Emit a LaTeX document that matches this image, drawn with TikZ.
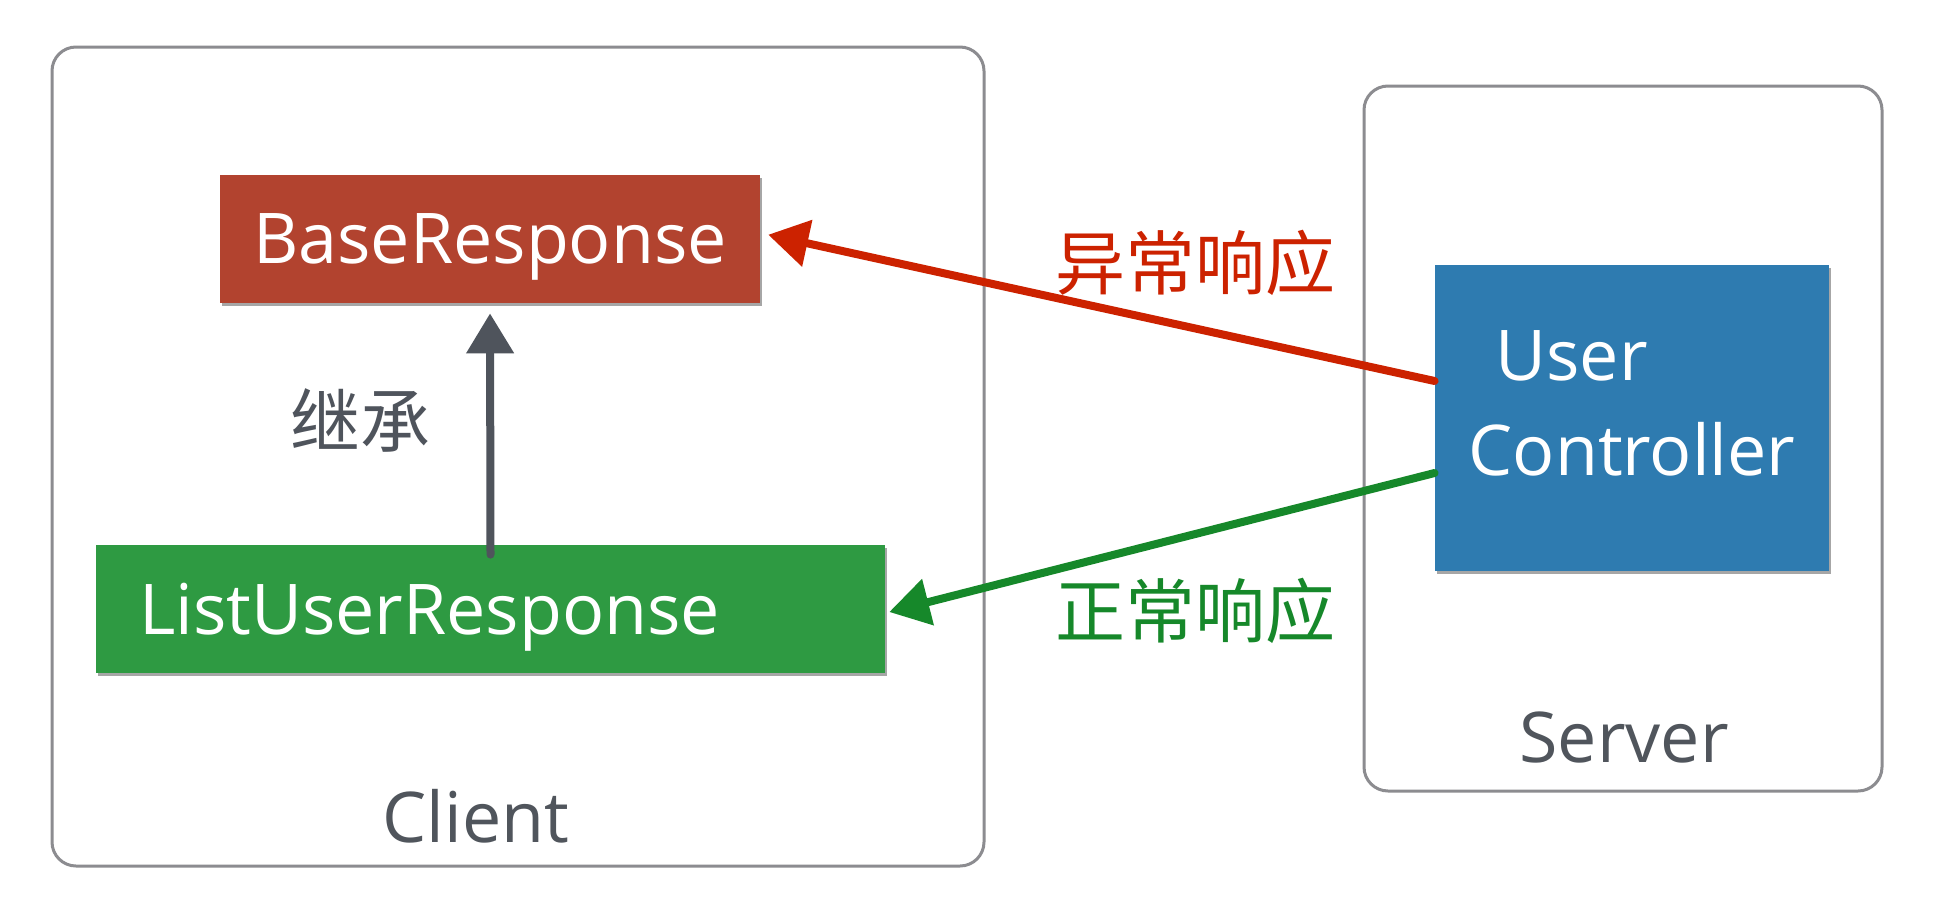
\documentclass[tikz,border=0pt]{standalone}
\usepackage{fontspec}
\setmainfont{Open Sans}
\newfontfamily\cjk{Noto Sans CJK SC}
\usetikzlibrary{arrows.meta,shadows}
\definecolor{framegray}{HTML}{8C8C90}
\definecolor{labelgray}{HTML}{50555C}
\definecolor{redbox}{HTML}{B2432F}
\definecolor{greenbox}{HTML}{2E9A42}
\definecolor{bluebox}{HTML}{2E7BB0}
\definecolor{redline}{HTML}{CC2200}
\definecolor{greenline}{HTML}{16882A}
\definecolor{grayline}{HTML}{4F545C}
\tikzset{
  frame/.style={draw=framegray, line width=1.5pt, rounded corners=12pt, fill=white},
  lbl/.style={font=\fontsize{35}{42}\selectfont, text=labelgray, inner sep=0pt},
  cjklbl/.style={font=\cjk\fontsize{35}{40}\selectfont, inner sep=0pt},
  box/.style={text=white, inner sep=0pt, font=\fontsize{35}{47.5}\selectfont,
    drop shadow={shadow xshift=1pt, shadow yshift=-1.5pt, opacity=0.35, fill=black}},
  pencil/.style={line width=4pt, line cap=round, -{Triangle[length=20pt,width=23pt]}},
}
\begin{document}
\begin{tikzpicture}[x=0.5pt,y=-0.5pt]
\useasboundingbox (0,0) rectangle (1948,910);
\fill[white] (0,0) rectangle (1948,910);

% frames
\node[frame, minimum width=466pt, minimum height=409.5pt] (client) at (518,456.5) {};
\node[frame, minimum width=259pt, minimum height=352.5pt] (server) at (1623,438.5) {};
\node[lbl, anchor=base] (clientlbl) at (476,842) {Client};
\node[lbl, anchor=base] (serverlbl) at (1624,762) {Server};

% boxes
\node[box, fill=redbox, minimum width=270pt, minimum height=64pt, text depth=0pt] (br) at (490,239) {BaseResponse};
\node[box, fill=greenbox, minimum height=64pt, text width=351.5pt, inner xsep=21.5pt, align=left, text depth=0pt] (lur) at (490.5,609) {ListUserResponse};
\node[box, fill=bluebox, minimum width=197pt, minimum height=153pt, align=left, text depth=15pt] (uc) at (1632,418) {\hspace{13.5pt}User\\Controller};

% arrows
\draw[pencil, draw=grayline, fill=grayline, shorten >=5pt] ([yshift=-5pt]lur.north) -- (br.south);
\draw[pencil, draw=redline, fill=redline, shorten >=4pt] ([yshift=18.5pt]uc.west) -- ([yshift=3pt]br.east);
\draw[pencil, draw=greenline, fill=greenline, shorten >=2pt] ([yshift=-27.5pt]uc.west) -- ([yshift=-2pt]lur.east);

% labels
\node[cjklbl, text=grayline] (inherit) at (360,420) {继承};
\node[cjklbl, text=redline] (errlbl) at (1195,263) {异常响应};
\node[cjklbl, text=greenline] (oklbl) at (1195,611) {正常响应};
\end{tikzpicture}
\end{document}
